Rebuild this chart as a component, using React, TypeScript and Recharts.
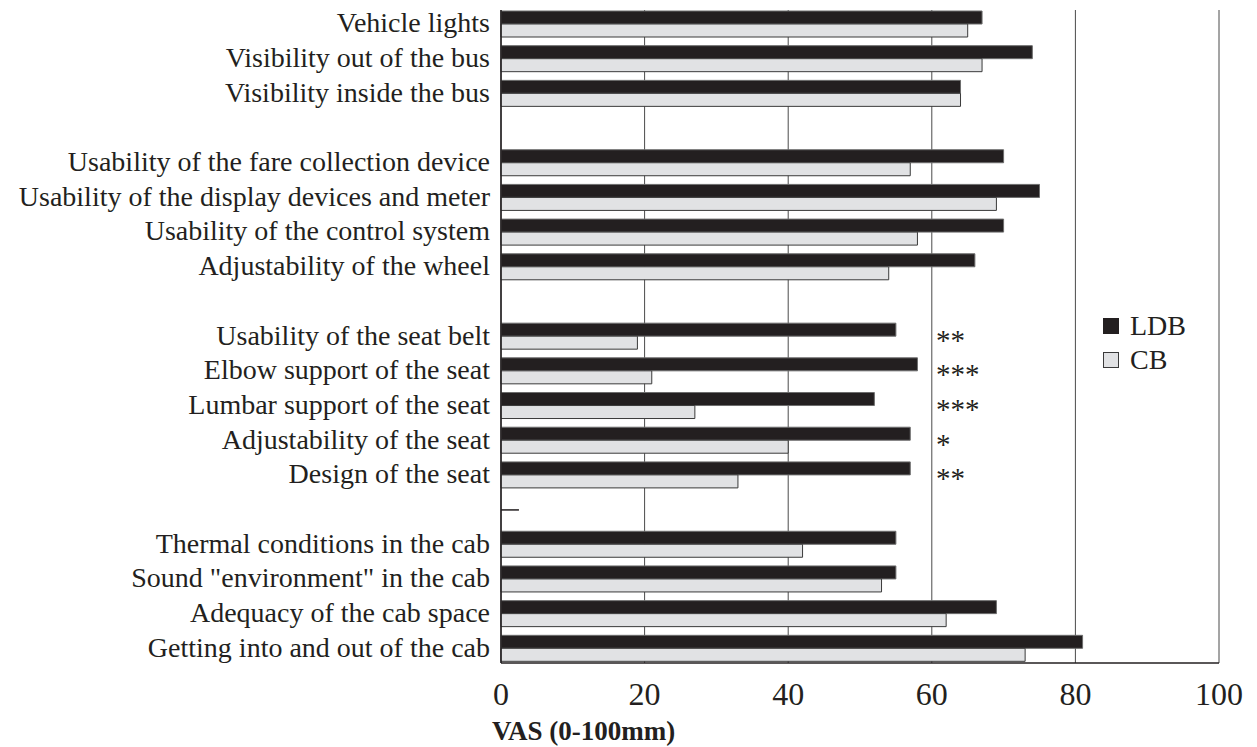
import { Bar, BarChart, CartesianGrid, Legend, ReferenceDot, ReferenceLine, XAxis, YAxis } from "recharts";

const categories = [
  "Vehicle lights",
  "Visibility out of the bus",
  "Visibility inside the bus",
  "",
  "Usability of the fare collection device",
  "Usability of the display devices and meter",
  "Usability of the control system",
  "Adjustability of the wheel",
  "",
  "Usability of the seat belt",
  "Elbow support of the seat",
  "Lumbar support of the seat",
  "Adjustability of the seat",
  "Design of the seat",
  "",
  "Thermal conditions in the cab",
  'Sound "environment" in the cab',
  "Adequacy of the cab space",
  "Getting into and out of the cab",
];

const ldb = [67, 74, 64, null, 70, 75, 70, 66, null, 55, 58, 52, 57, 57, null, 55, 55, 69, 81];
const cb = [65, 67, 64, null, 57, 69, 58, 54, null, 19, 21, 27, 40, 33, null, 42, 53, 62, 73];
const stars = ["", "", "", "", "", "", "", "", "", "**", "***", "***", "*", "**", "", "", "", "", ""];
const xTicks = [0, 20, 40, 60, 80, 100];

const data = categories.map((name, i) => ({ key: `r${i}`, name, LDB: ldb[i], CB: cb[i], stars: stars[i] }));

const ink = "#231f20";
const serif = "'Liberation Serif', 'Times New Roman', serif";

const YTick = ({ x, y, payload }: any) => {
  const row = data.find((d) => d.key === payload.value);
  return (
    <text x={x} y={y} dy={8} textAnchor="end" fontSize={28} fill={ink} fontFamily={serif}>
      {row ? row.name : ""}
    </text>
  );
};

const XTick = ({ x, y, payload }: any) => (
  <text x={x} y={y} dy={40} textAnchor="middle" fontSize={32} fill={ink} fontFamily={serif}>
    {payload.value}
  </text>
);

const renderLegend = () => (
  <div style={{ fontFamily: serif, fontSize: 28, color: ink, lineHeight: "34px" }}>
    {[
      { name: "LDB", fill: ink, stroke: ink },
      { name: "CB", fill: "#e1e2e4", stroke: "#3a3a3a" },
    ].map((it) => (
      <div key={it.name} style={{ display: "flex", alignItems: "center" }}>
        <span
          style={{
            display: "inline-block",
            width: 14,
            height: 14,
            background: it.fill,
            border: `1px solid ${it.stroke}`,
            marginRight: 11,
          }}
        />
        <span>{it.name}</span>
      </div>
    ))}
  </div>
);

export default function App() {
  return (
    <div style={{ width: 1257, height: 747, background: "#fff" }}>
      <style>{`body{margin:0}`}</style>
      <BarChart
        width={1257}
        height={747}
        data={data}
        layout="vertical"
        margin={{ top: 10, right: 38, bottom: 0, left: 0 }}
        barSize={13}
        barGap={0}
      >
        <CartesianGrid horizontal={false} stroke="#4a4a4a" strokeWidth={1} />
        <XAxis
          type="number"
          domain={[0, 100]}
          ticks={xTicks}
          height={84}
          tickLine={false}
          tickSize={0}
          axisLine={{ stroke: ink, strokeWidth: 1.5 }}
          tick={<XTick />}
          interval={0}
          label={{
            content: ({ viewBox }: any) => (
              <text
                x={viewBox.x - 9}
                y={viewBox.y + 77}
                fontSize={27}
                fontWeight="bold"
                fill={ink}
                fontFamily={serif}
              >
                VAS (0-100mm)
              </text>
            ),
          }}
        />
        <XAxis
          xAxisId="top"
          orientation="top"
          type="number"
          domain={[0, 100]}
          height={0}
          tick={false}
          tickLine={false}
          axisLine={{ stroke: ink, strokeWidth: 1.5 }}
        />
        <YAxis
          type="category"
          dataKey="key"
          width={501}
          tickLine={false}
          tickSize={0}
          tickMargin={11}
          interval={0}
          padding={{ top: -3, bottom: -3 }}
          axisLine={{ stroke: ink, strokeWidth: 1.5 }}
          tick={<YTick />}
        />
        <Legend
          layout="vertical"
          align="center"
          verticalAlign="middle"
          content={renderLegend}
          wrapperStyle={{ position: "absolute", left: 1103, top: 309, width: 120 }}
        />
        <Bar dataKey="LDB" fill={ink} stroke="#6d6d6d" strokeWidth={1} isAnimationActive={false} />
        <Bar dataKey="CB" fill="#e1e2e4" stroke="#3a3a3a" strokeWidth={1} isAnimationActive={false} />
        <ReferenceLine
          segment={[
            { x: 0, y: "r14" },
            { x: 2.5, y: "r14" },
          ]}
          stroke={ink}
          strokeWidth={1.5}
        />
        {data
          .filter((d) => d.stars)
          .map((d) => (
            <ReferenceDot
              key={d.key}
              x={60.6}
              y={d.key}
              r={0}
              shape={(p: any) => (
                <text x={p.cx} y={p.cy} dy={13} fontSize={29} fill={ink} fontFamily={serif}>
                  {d.stars}
                </text>
              )}
            />
          ))}
      </BarChart>
    </div>
  );
}
